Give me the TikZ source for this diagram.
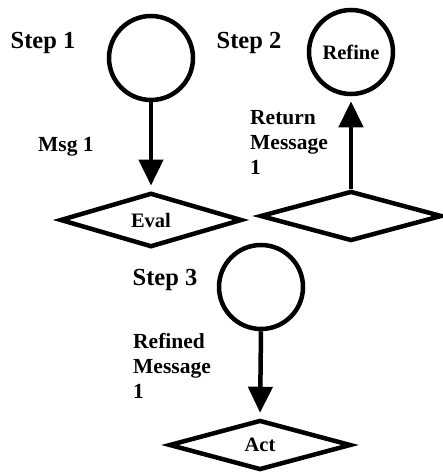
\documentclass[tikz,border=0pt]{standalone}
\usepackage{fontspec}
\setmainfont{Liberation Serif}
\usetikzlibrary{shapes.geometric, arrows.meta}

\begin{document}
\begin{tikzpicture}[
    x=1pt, y=-1pt,
    stepcircle/.style={draw, circle, line width=4.5pt, minimum size=84pt, inner sep=0pt, font=\bfseries\fontsize{20.5}{22}\selectfont},
    stepdiamond/.style={draw, diamond, line width=4.5pt, minimum width=182pt, minimum height=50pt, inner sep=0pt, font=\bfseries\fontsize{20.5}{22}\selectfont},
    steplabel/.style={font=\bfseries\fontsize{24.5}{26}\selectfont},
    msglabel/.style={anchor=west, align=left, inner sep=0pt, font=\bfseries\fontsize{21.5}{25}\selectfont},
    arrow/.style={-{Triangle[length=26pt, width=24pt]}, line width=4.5pt, shorten >=5pt}
]
    \useasboundingbox (0,0) rectangle (443,476);

    % --- Step 1: send the message ---
    \node[stepcircle] (send) at (151, 58) {};
    \node[stepdiamond] (eval) at (151, 220) {Eval};
    \node[steplabel] (step1) at (43, 43) {Step 1};
    \node[msglabel] (msg1) at (38, 147) {Msg 1};

    % --- Step 2: refine the returned message ---
    \node[stepcircle] (refine) at (351, 52) {Refine};
    \node[stepdiamond] (ret) at (351, 216) {};
    \node[steplabel] (step2) at (249, 43) {Step 2};
    \node[msglabel] (retmsg) at (250, 142) {Return\\Message\\1};

    % --- Step 3: act on the refined message ---
    \node[stepcircle] (refined) at (261, 287) {};
    \node[stepdiamond] (act) at (260, 445) {Act};
    \node[steplabel] (step3) at (165, 280) {Step 3};
    \node[msglabel] (refmsg) at (133, 366) {Refined\\Message\\1};

    % --- connections ---
    \draw[arrow] (send.south) -- (eval.north);
    \draw[arrow] (ret.north) -- (refine.south);
    \draw[arrow] (refined.south) -- (act.north);

\end{tikzpicture}
\end{document}
